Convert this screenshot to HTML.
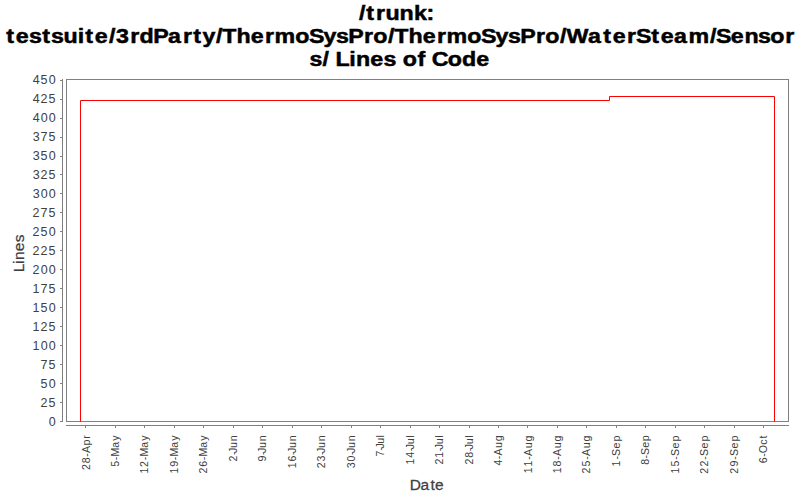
<!DOCTYPE html>
<html><head><meta charset="utf-8"><style>
html,body{margin:0;padding:0;background:#fff;overflow:hidden;}
svg{display:block;}
text{font-family:"Liberation Sans",sans-serif;}
</style></head><body>
<svg width="800" height="500" viewBox="0 0 800 500">
<rect x="0" y="0" width="800" height="500" fill="#ffffff"/>
<g font-weight="bold" font-size="21" fill="#000000" stroke="#000000" stroke-width="0.5">
<text transform="scale(1.106,1)" x="324.53 331.21 340.08 348.56 361.25 374.23 385.74" y="20">/trunk:</text>
<text transform="scale(1.106,1)" x="5.71 14.21 26.32 38.26 46.21 57.43 70.26 77.14 85.64 98.49 104.91 117.66 126.10 138.53 151.92 165.58 174.79 183.07 195.23 200.92 213.83 226.68 239.72 248.27 266.98 279.44 292.47 303.89 314.84 329.23 337.50 350.75 356.43 369.34 382.20 395.24 403.79 422.49 434.96 447.99 459.41 470.35 484.75 493.02 506.26 512.26 531.66 545.49 553.99 567.03 575.10 588.89 597.39 609.42 622.59 641.89 647.43 660.68 673.18 685.45 696.45 709.89" y="43">testsuite/3rdParty/ThermoSysPro/ThermoSysPro/WaterSteam/Sensor</text>
<text transform="scale(1.106,1)" x="279.93 291.52 297.47 303.35 315.74 321.92 334.73 346.84 358.05 364.17 377.52 385.17 390.28 404.86 417.69 430.57" y="66">s/ Lines of Code</text>
</g>
<rect x="66.5" y="79.5" width="722" height="342" fill="none" stroke="#808080" stroke-width="1"/>
<line x1="62.5" y1="79" x2="62.5" y2="422" stroke="#808080" stroke-width="1"/>
<line x1="66" y1="425.5" x2="789" y2="425.5" stroke="#808080" stroke-width="1"/>
<path d="M60,421.5H62 M60,402.5H62 M60,383.5H62 M60,364.5H62 M60,345.5H62 M60,326.5H62 M60,307.5H62 M60,288.5H62 M60,269.5H62 M60,250.5H62 M60,231.5H62 M60,212.5H62 M60,193.5H62 M60,174.5H62 M60,156.5H62 M60,137.5H62 M60,118.5H62 M60,99.5H62 M60,80.5H62" stroke="#808080" stroke-width="1" fill="none"/>
<g fill="#404040" font-size="12.5">
<text transform="scale(1.0001,1)" x="48.63" y="425.70">0</text>
<text transform="scale(1.0001,1)" x="40.48 48.59" y="406.71">25</text>
<text transform="scale(1.0001,1)" x="40.59 48.63" y="387.73">50</text>
<text transform="scale(1.0001,1)" x="40.61 48.59" y="368.75">75</text>
<text transform="scale(1.0001,1)" x="32.57 40.63 48.63" y="349.76">100</text>
<text transform="scale(1.0001,1)" x="32.57 40.48 48.59" y="330.77">125</text>
<text transform="scale(1.0001,1)" x="32.57 40.59 48.63" y="311.79">150</text>
<text transform="scale(1.0001,1)" x="32.57 40.61 48.59" y="292.81">175</text>
<text transform="scale(1.0001,1)" x="32.48 40.63 48.63" y="273.82">200</text>
<text transform="scale(1.0001,1)" x="32.48 40.48 48.59" y="254.84">225</text>
<text transform="scale(1.0001,1)" x="32.48 40.59 48.63" y="235.85">250</text>
<text transform="scale(1.0001,1)" x="32.48 40.61 48.59" y="216.87">275</text>
<text transform="scale(1.0001,1)" x="32.65 40.63 48.63" y="197.88">300</text>
<text transform="scale(1.0001,1)" x="32.65 40.48 48.59" y="178.90">325</text>
<text transform="scale(1.0001,1)" x="32.65 40.59 48.63" y="159.91">350</text>
<text transform="scale(1.0001,1)" x="32.65 40.61 48.59" y="140.93">375</text>
<text transform="scale(1.0001,1)" x="32.63 40.63 48.63" y="121.94">400</text>
<text transform="scale(1.0001,1)" x="32.63 40.48 48.59" y="102.96">425</text>
<text transform="scale(1.0001,1)" x="32.63 40.59 48.63" y="83.97">450</text>
</g>
<path d="M85.5,426V428 M115.5,426V428 M144.5,426V428 M174.5,426V428 M203.5,426V428 M233.5,426V428 M262.5,426V428 M292.5,426V428 M321.5,426V428 M351.5,426V428 M380.5,426V428 M410.5,426V428 M439.5,426V428 M469.5,426V428 M498.5,426V428 M527.5,426V428 M557.5,426V428 M586.5,426V428 M616.5,426V428 M645.5,426V428 M675.5,426V428 M704.5,426V428 M734.5,426V428 M763.5,426V428" stroke="#808080" stroke-width="1" fill="none"/>
<g fill="#404040" font-size="11.5">
<text transform="translate(89.50,435) rotate(-90) scale(0.9220,1)" x="-38.03 -30.63 -23.67 -19.64 -11.42 -4.02" y="0">28-Apr</text>
<text transform="translate(118.97,435) rotate(-90) scale(0.9220,1)" x="-34.52 -27.51 -23.42 -13.85 -6.25" y="0">5-May</text>
<text transform="translate(148.44,435) rotate(-90) scale(0.9220,1)" x="-41.77 -34.63 -27.51 -23.42 -13.85 -6.25" y="0">12-May</text>
<text transform="translate(177.91,435) rotate(-90) scale(0.9220,1)" x="-41.77 -34.51 -27.51 -23.42 -13.85 -6.25" y="0">19-May</text>
<text transform="translate(207.38,435) rotate(-90) scale(0.9220,1)" x="-41.87 -34.47 -27.51 -23.42 -13.85 -6.25" y="0">26-May</text>
<text transform="translate(236.85,435) rotate(-90) scale(0.9220,1)" x="-28.88 -21.76 -19.51 -14.05 -6.78" y="0">2-Jun</text>
<text transform="translate(266.32,435) rotate(-90) scale(0.9220,1)" x="-28.76 -21.76 -19.51 -14.05 -6.78" y="0">9-Jun</text>
<text transform="translate(295.79,435) rotate(-90) scale(0.9220,1)" x="-36.03 -28.72 -21.76 -19.51 -14.05 -6.78" y="0">16-Jun</text>
<text transform="translate(325.26,435) rotate(-90) scale(0.9220,1)" x="-36.12 -28.71 -21.76 -19.51 -14.05 -6.78" y="0">23-Jun</text>
<text transform="translate(354.73,435) rotate(-90) scale(0.9220,1)" x="-35.96 -28.73 -21.76 -19.51 -14.05 -6.78" y="0">30-Jun</text>
<text transform="translate(384.20,435) rotate(-90) scale(0.9220,1)" x="-23.41 -16.79 -14.65 -9.48 -2.71" y="0">7-Jul</text>
<text transform="translate(413.67,435) rotate(-90) scale(0.9220,1)" x="-31.97 -24.67 -17.71 -15.45 -10.00 -2.86" y="0">14-Jul</text>
<text transform="translate(443.14,435) rotate(-90) scale(0.9220,1)" x="-32.07 -24.73 -17.71 -15.45 -10.00 -2.86" y="0">21-Jul</text>
<text transform="translate(472.61,435) rotate(-90) scale(0.9220,1)" x="-32.07 -24.67 -17.71 -15.45 -10.00 -2.86" y="0">28-Jul</text>
<text transform="translate(502.08,435) rotate(-90) scale(0.9220,1)" x="-33.17 -26.21 -22.18 -14.06 -6.89" y="0">4-Aug</text>
<text transform="translate(531.55,435) rotate(-90) scale(0.9220,1)" x="-41.54 -34.11 -26.90 -22.77 -14.43 -7.07" y="0">11-Aug</text>
<text transform="translate(561.02,435) rotate(-90) scale(0.9220,1)" x="-41.54 -34.05 -26.90 -22.77 -14.43 -7.07" y="0">18-Aug</text>
<text transform="translate(590.49,435) rotate(-90) scale(0.9220,1)" x="-41.64 -34.09 -26.90 -22.77 -14.43 -7.07" y="0">25-Aug</text>
<text transform="translate(619.96,435) rotate(-90) scale(0.9220,1)" x="-34.06 -26.69 -22.69 -14.60 -7.07" y="0">1-Sep</text>
<text transform="translate(649.43,435) rotate(-90) scale(0.9220,1)" x="-32.40 -25.43 -21.62 -13.91 -6.74" y="0">8-Sep</text>
<text transform="translate(678.90,435) rotate(-90) scale(0.9220,1)" x="-41.84 -34.20 -26.81 -22.79 -14.66 -7.10" y="0">15-Sep</text>
<text transform="translate(708.37,435) rotate(-90) scale(0.9220,1)" x="-41.95 -34.31 -26.81 -22.79 -14.66 -7.10" y="0">22-Sep</text>
<text transform="translate(737.84,435) rotate(-90) scale(0.9220,1)" x="-41.95 -34.19 -26.81 -22.79 -14.66 -7.10" y="0">29-Sep</text>
<text transform="translate(767.31,435) rotate(-90) scale(0.9220,1)" x="-30.62 -23.66 -19.68 -10.60 -3.86" y="0">6-Oct</text>
</g>
<text transform="translate(24.3,253.7) rotate(-90) scale(1.0700,1)" x="-17.42 -9.60 -5.93 2.36 10.63" y="0" font-size="14.5" fill="#404040" stroke="#404040" stroke-width="0.25">Lines</text>
<text transform="scale(1.0700,1)" x="382.99 392.93 402.38 406.56" y="490" font-size="14.5" fill="#404040" stroke="#404040" stroke-width="0.25">Date</text>
<path d="M80.5,421.5 V100.5 H609.5 V96.5 H774.5 V421.5" fill="none" stroke="#ff0000" stroke-width="1"/>
</svg>
</body></html>
